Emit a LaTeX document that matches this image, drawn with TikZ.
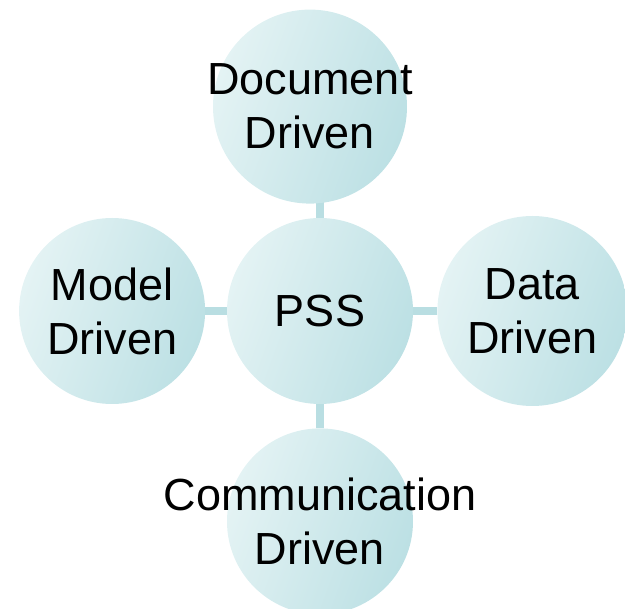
\documentclass[tikz,border=0pt]{standalone}
\usepackage{fontspec}
\setmainfont{Liberation Sans}
\usetikzlibrary{positioning,calc,backgrounds}

\definecolor{bubblelight}{RGB}{228,243,244}
\definecolor{bubbledark}{RGB}{188,224,228}
\definecolor{spokecol}{RGB}{185,222,226}

\tikzset{
  bubbletext/.style={align=center, inner sep=0pt, font=\fontsize{45}{54}\selectfont},
  bubble/.style={circle, minimum size=186pt, inner sep=0pt,
    top color=bubblelight, bottom color=bubbledark, shading angle=70,
    label={[bubbletext]center:#1}},
  spoke/.style={draw=spokecol, line width=8pt}
}

\begin{document}
\begin{tikzpicture}[x=1pt,y=-1pt]
	\useasboundingbox (0,0) rectangle (625,609);
	\node[bubble={PSS}] (pss) at (320,311) {};
	\node[bubble={Document\\Driven}, minimum size=194pt, above=14pt of pss, xshift=-10pt] (doc) {};
	\node[bubble={Model\\Driven}, left=21.5pt of pss] (model) {};
	\node[bubble={Data\\Driven}, minimum size=190pt, right=24pt of pss] (data) {};
	\node[bubble={Communication\\Driven}, below=24pt of pss] (comm) {};
	% spokes behind the bubbles
	\begin{scope}[on background layer]
		\draw[spoke] (pss.north) -- (pss.north |- doc.center);
		\draw[spoke] (pss) -- (model);
		\draw[spoke] (pss) -- (data);
		\draw[spoke] (pss) -- (comm);
	\end{scope}
\end{tikzpicture}
\end{document}
